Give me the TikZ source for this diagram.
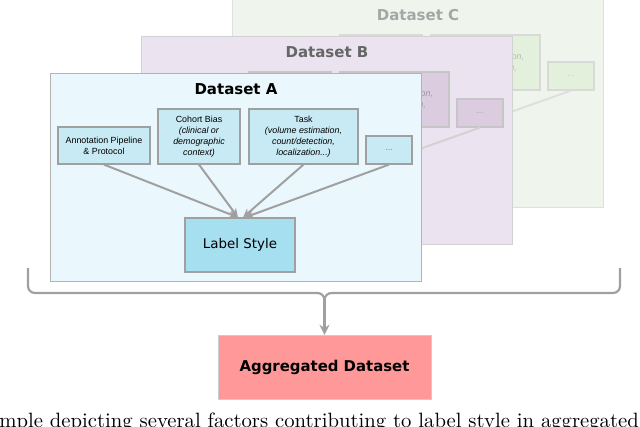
\documentclass[tikz,border=0pt]{standalone}
\usepackage{fontspec}
\usetikzlibrary{arrows.meta}
\newfontfamily\boxfont{Liberation Sans}
\newfontfamily\headfont{DejaVu Sans}
\definecolor{panecyan}{HTML}{EAF8FD}
\definecolor{cellcyan}{HTML}{C8EAF4}
\definecolor{stylecyan}{HTML}{A6DFF0}
\definecolor{panelilac}{HTML}{EBE3F0}
\definecolor{celllilac}{HTML}{DCCCE0}
\definecolor{panegreen}{HTML}{EFF5EC}
\definecolor{cellgreen}{HTML}{E3F0DB}
\definecolor{aggred}{HTML}{FF9999}
\definecolor{edgegray}{HTML}{A0A0A0}
\definecolor{titlegray}{HTML}{666666}

\begin{document}
\begin{tikzpicture}[x=1pt, y=-1pt,
	cell/.style={draw=edgegray, line width=1.2pt, inner sep=0pt, align=center,
		font=\boxfont\fontsize{8.9}{11}\selectfont},
	feed/.style={draw=edgegray, line width=2pt, -{Stealth[length=9pt, width=8pt]}},
	title/.style={font=\headfont\bfseries\fontsize{15}{18}\selectfont}]

			\useasboundingbox (0,0) rectangle (640,426);

			% Dataset C
			\node[draw=gray!25, fill=panegreen, minimum width=371pt, minimum height=208pt] (paneC) at (417.5,103) {};
			\node[title, text=gray!70] (titleC) at (418,15) {Dataset C};
			\node[cell, draw=gray!30, fill=cellgreen, minimum width=82pt, minimum height=55pt] (cohC) at (381,62.5) {};
			\node[cell, draw=gray!30, fill=cellgreen, text=gray!55, minimum width=109pt, minimum height=55pt] (taskC) at (485.5,62.5) {Task\\\textit{(volume estimation,}\\\textit{count/detection,}\\\textit{localization...)}};
			\node[cell, draw=gray!30, fill=cellgreen, text=gray!45, minimum width=46pt, minimum height=28pt] (moreC) at (571,76) {...};
			\node[cell, draw=gray!30, fill=cellgreen, minimum width=110pt, minimum height=54pt] (styleC) at (422,171) {};
			\draw[feed, draw=gray!25] (moreC.south) -- (styleC.north);

			% Dataset B
			\node[draw=gray!35, fill=panelilac, minimum width=371pt, minimum height=208pt] (paneB) at (326.5,140) {};
			\node[title, text=titlegray] (titleB) at (327,52) {Dataset B};
			\node[cell, draw=gray!45, fill=celllilac, minimum width=82pt, minimum height=55pt] (cohB) at (290,99.5) {};
			\node[cell, draw=gray!45, fill=celllilac, text=gray!80, minimum width=109pt, minimum height=55pt] (taskB) at (394.5,99.5) {Task\\\textit{(volume estimation,}\\\textit{count/detection,}\\\textit{localization...)}};
			\node[cell, draw=gray!45, fill=celllilac, text=gray!70, minimum width=46pt, minimum height=28pt] (moreB) at (480,113) {...};
			\node[cell, draw=gray!45, fill=celllilac, minimum width=110pt, minimum height=54pt] (styleB) at (331,208) {};
			\draw[feed, draw=gray!35] (moreB.south) -- (styleB.north);

			% Dataset A
			\node[draw=edgegray!80, fill=panecyan, minimum width=371pt, minimum height=208pt] (paneA) at (235.5,177) {};
			\node[title] (titleA) at (236,89) {Dataset A};
			\node[cell, fill=cellcyan, minimum width=92pt, minimum height=37pt] (annA) at (104,145.5) {Annotation Pipeline\\\& Protocol};
			\node[cell, fill=cellcyan, minimum width=82pt, minimum height=55pt] (cohA) at (199,136.5) {Cohort Bias\\\textit{(clinical or}\\\textit{demographic}\\\textit{context)}};
			\node[cell, fill=cellcyan, minimum width=109pt, minimum height=55pt] (taskA) at (303.5,136.5) {Task\\\textit{(volume estimation,}\\\textit{count/detection,}\\\textit{localization...)}};
			\node[cell, fill=cellcyan, text=gray, minimum width=46pt, minimum height=28pt] (moreA) at (389,150) {...};
			\node[cell, fill=stylecyan, minimum width=110pt, minimum height=54pt,
				font=\headfont\fontsize{13.4}{16}\selectfont] (styleA) at (240,245) {Label Style};

			\draw[feed] (annA.south) -- ([xshift=-2pt]styleA.north);
			\draw[feed] (cohA.south) -- ([xshift=-2pt]styleA.north);
			\draw[feed] (taskA.south) -- ([xshift=3pt]styleA.north);
			\draw[feed] (moreA.south) -- ([xshift=5pt]styleA.north);

			% brace and result
			\draw[edgegray, line width=2.2pt, rounded corners=7pt] (28,268) -- (28,293) -- (324.5,293) -- (324.5,306);
			\draw[edgegray, line width=2.2pt, rounded corners=7pt] (620,268) -- (620,293) -- (324.5,293) -- (324.5,306);
			\coordinate (braceTip) at (324.5,300);

			\node[draw=gray!40, fill=aggred, minimum width=213pt, minimum height=64pt,
				font=\headfont\bfseries\fontsize{14.9}{18}\selectfont] (agg) at (324.5,367) {Aggregated Dataset};
			\draw[edgegray, line width=2.2pt, -{Stealth[length=10pt, width=10pt]}] (braceTip) -- (agg.north);

			\node[anchor=base west, scale=2.07, inner sep=0pt] (caption) at (-1,427)
				{\fontsize{10}{12}\selectfont\llap{Exa}mple depicting several factors contributing to label style in aggregated datasets.};

	\end{tikzpicture}
\end{document}
